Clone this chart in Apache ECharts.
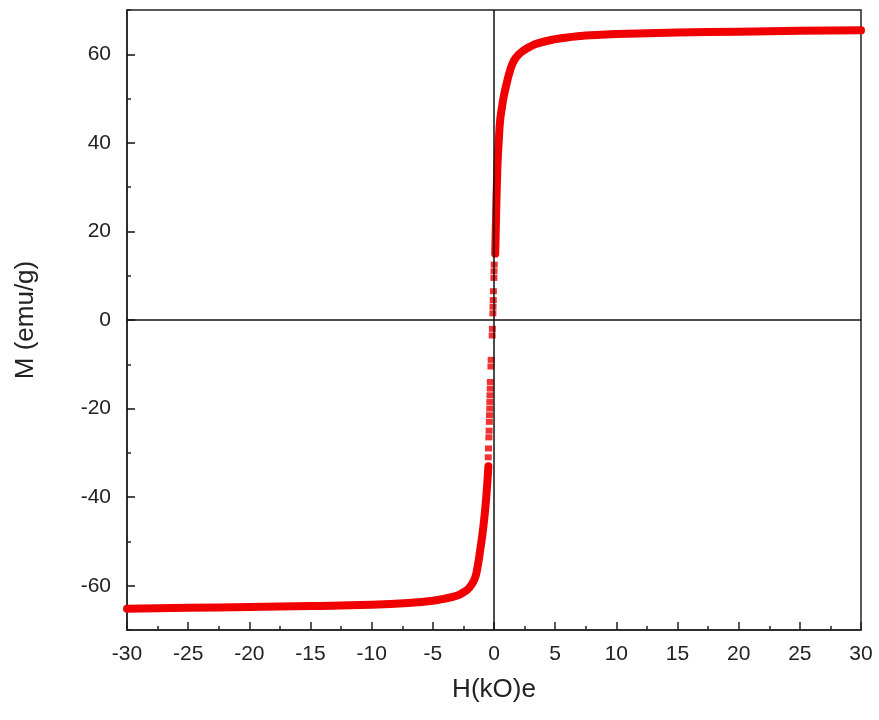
<!DOCTYPE html>
<html>
<head>
<meta charset="utf-8">
<script src="https://cdn.jsdelivr.net/npm/echarts@6/dist/echarts.min.js"></script>
<style>html,body{margin:0;padding:0;background:#fff;}#c{width:879px;height:720px;}</style>
</head>
<body>
<div id="c"></div>
<script>
// Negative-field branch
const negH = [-30,-25,-20,-15,-10,-7,-5,-4,-3,-2.5,-2,-1.6,-1.4,-1.14,-0.87,-0.65,-0.46];
const negM = [-65.2,-65.0,-64.8,-64.6,-64.3,-63.9,-63.4,-62.9,-62.2,-61.5,-60.4,-58.6,-56.6,-52.2,-46.7,-40.6,-33];
// Positive-field branch
const posH = [0.1,0.15,0.2,0.25,0.3,0.4,0.5,0.65,0.8,1.0,1.3,1.6,2.0,2.5,3.0,3.5,4.8,6,7.3,10,15,20,25,30];
const posM = [15,21,27,32,36,41,45,48,50.5,53,56.2,58.4,59.9,61.0,61.8,62.4,63.3,63.8,64.2,64.6,64.9,65.1,65.3,65.4];
// Sparse points near zero field
const midH = [-0.47,-0.45,-0.42,-0.4,-0.38,-0.37,-0.35,-0.34,-0.33,-0.31,-0.3,-0.25,-0.23,-0.15,-0.13,-0.09,-0.08,-0.06,-0.05,-0.01,0.0,0.02];
const midM = [-31,-29,-26.5,-25,-23,-21.5,-20,-18.5,-17,-15.5,-14,-10.5,-9,-3.5,-2,1.5,3,4.5,6.5,9.5,11,12.5];
// Tick labels on the M axis
const yMajor = [-60,-40,-20,0,20,40,60];

const pair = (a,b) => a.map((v,i)=>[v,b[i]]);
const font = 'Liberation Sans, Arial, sans-serif';
const axCol = '#222';
const red = '#f00000';
const xMin = -30, xMax = 30;
const majorTickSpan = 0.65; // long y-tick length, in H units (~8 px)

// Long inward ticks at the labelled M values, drawn through the axes' scales
const majorTickSegments = yMajor.map(v => [
  {coord:[xMin, v]}, {coord:[xMin + majorTickSpan, v]}
]);

const chart = echarts.init(document.getElementById('c'));
chart.setOption({
  animation: false,
  backgroundColor: '#fff',
  grid: {left:127, right:18, top:10, bottom:90, show:true, borderColor:axCol, borderWidth:1.5, backgroundColor:'transparent'},
  xAxis: {
    type:'value', min:xMin, max:xMax, interval:5,
    axisLine:{show:true, onZero:false, lineStyle:{color:axCol, width:1.5}},
    axisTick:{show:true, inside:true, length:8, lineStyle:{color:axCol, width:1.5}},
    minorTick:{show:true, splitNumber:2, length:4, lineStyle:{color:axCol, width:1.5}},
    axisLabel:{fontSize:21, color:axCol, margin:14, fontFamily:font},
    splitLine:{show:false},
    name:'H(kO)e', nameLocation:'middle', nameGap:47,
    nameTextStyle:{fontSize:26, color:axCol, fontFamily:font}
  },
  yAxis: {
    type:'value', min:-70, max:70, interval:20, position:'left',
    axisLine:{show:true, onZero:false, lineStyle:{color:axCol, width:1.5}},
    axisTick:{show:true, inside:true, length:4, lineStyle:{color:axCol, width:1.5}},
    axisLabel:{fontSize:21, color:axCol, margin:16, fontFamily:font, customValues:yMajor},
    splitLine:{show:false},
    name:'M (emu/g)', nameLocation:'middle', nameGap:88,
    nameTextStyle:{fontSize:26, color:axCol, fontFamily:font}
  },
  series: [
    {
      type:'line', data:[], z:1, silent:true,
      markLine:{silent:true, symbol:'none', label:{show:false},
        lineStyle:{color:'#111', width:1.5, type:'solid'},
        data:[{xAxis:0},{yAxis:0}].concat(majorTickSegments)}
    },
    {type:'line', data:pair(negH,negM), showSymbol:false, smooth:0.5,
      lineStyle:{color:red, width:8, cap:'round', join:'round'}, z:3},
    {type:'line', data:pair(posH,posM), showSymbol:false, smooth:0.5,
      lineStyle:{color:red, width:8, cap:'round', join:'round'}, z:3},
    {type:'scatter', data:pair(midH,midM), symbol:'rect', symbolSize:[7,6],
      itemStyle:{color:red}, z:3}
  ]
});
</script>
</body>
</html>
